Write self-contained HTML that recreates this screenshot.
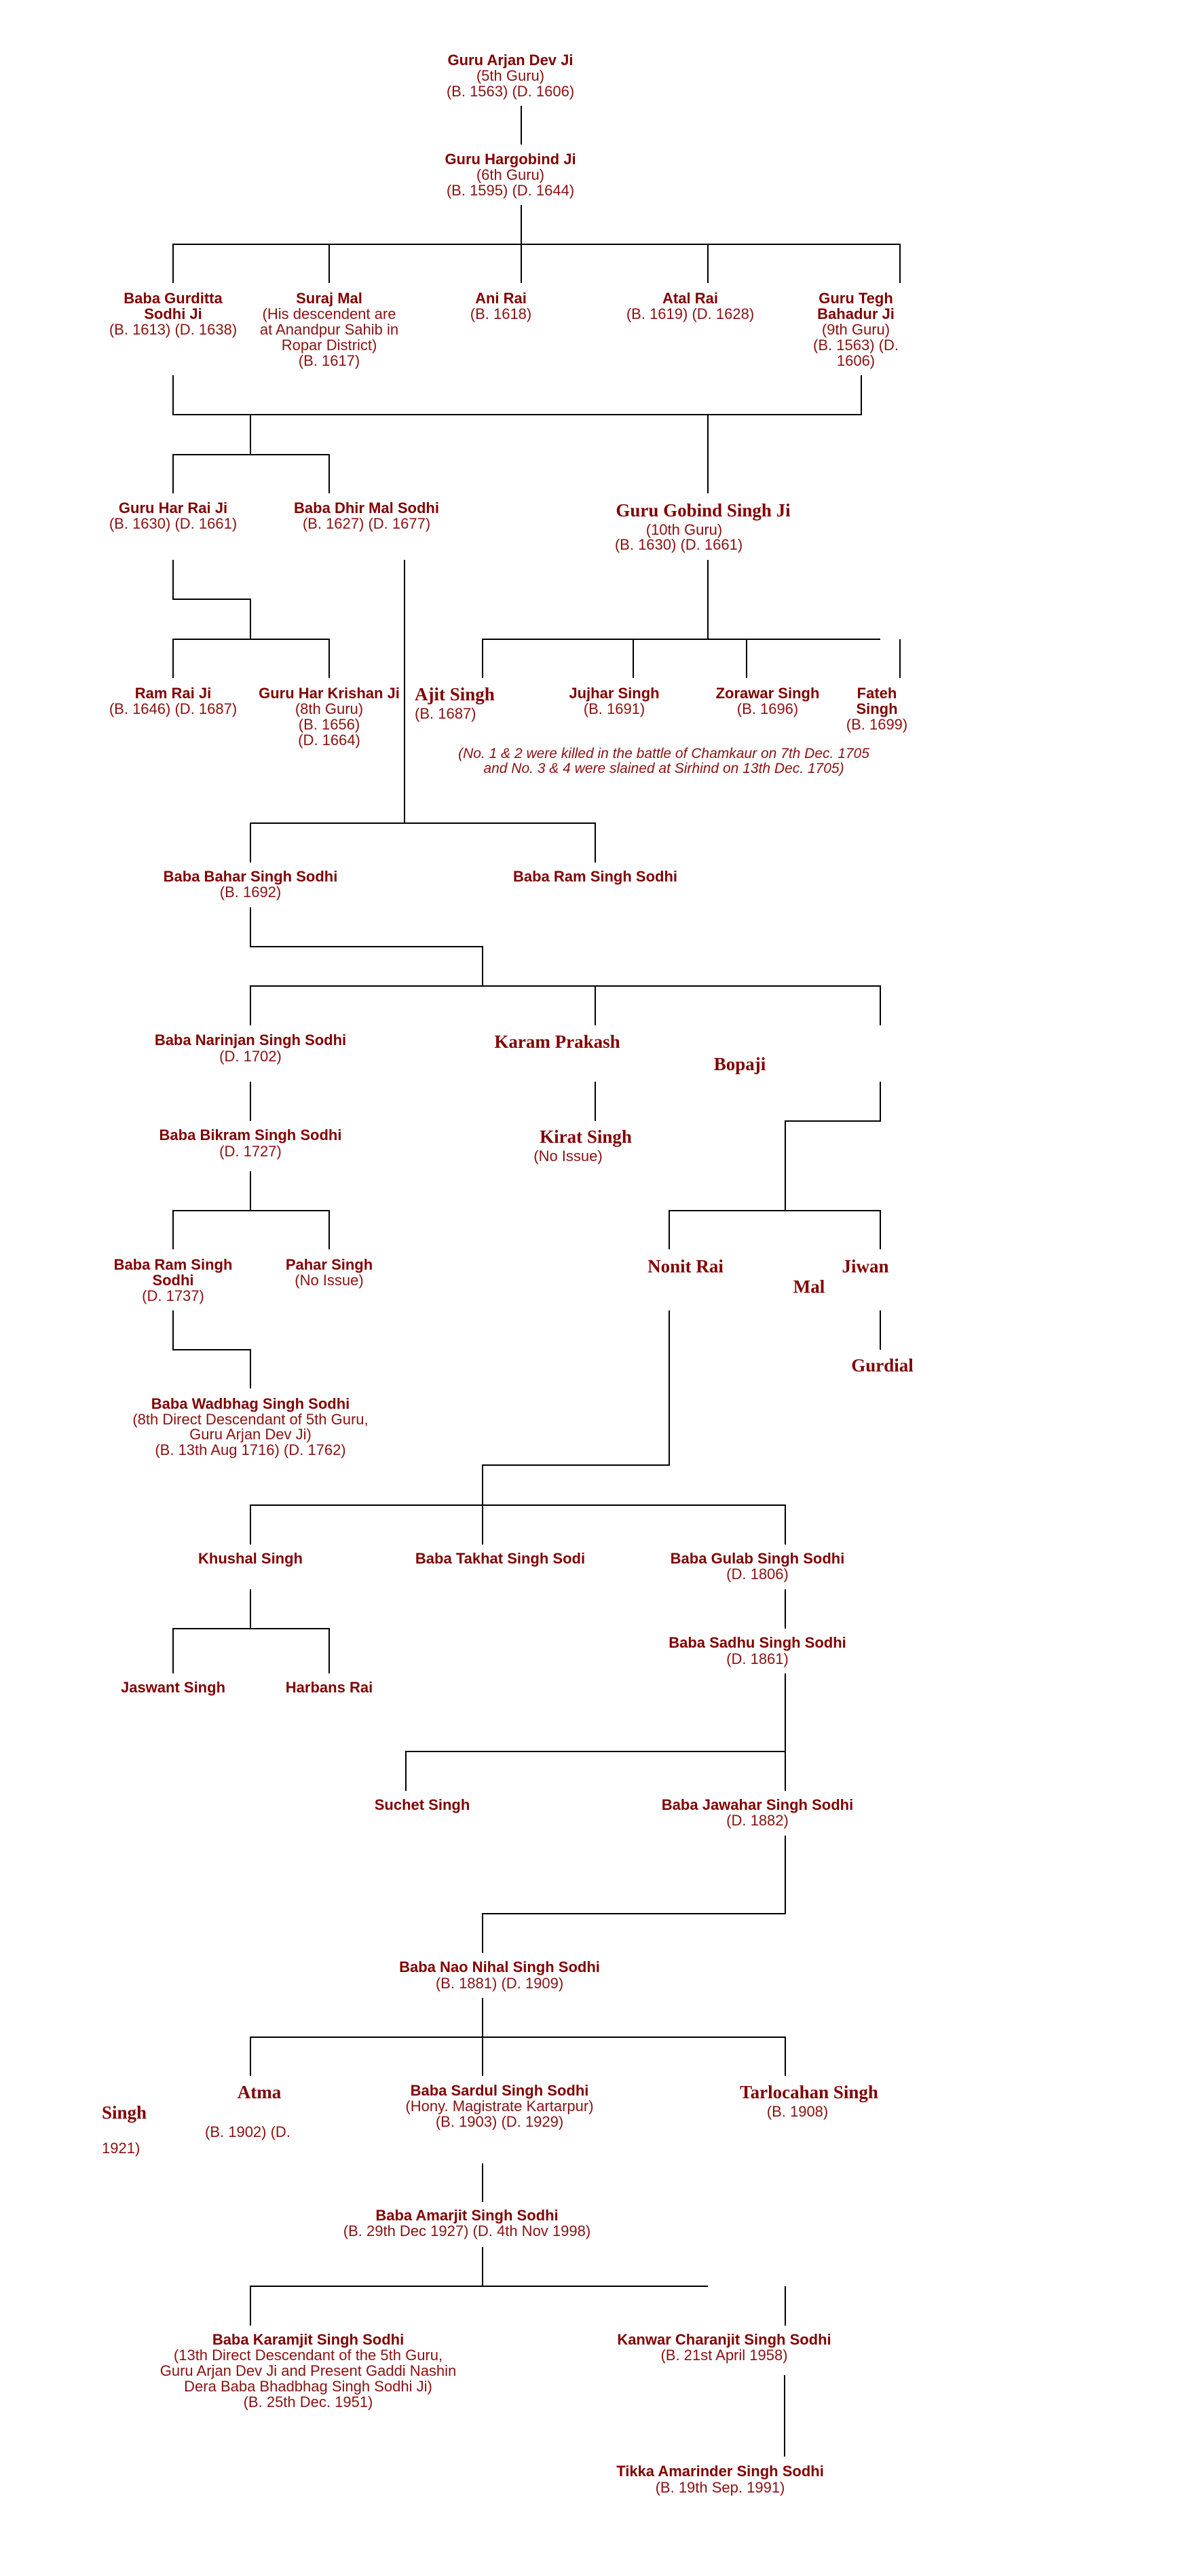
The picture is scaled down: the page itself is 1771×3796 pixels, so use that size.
<!DOCTYPE html>
<html><head><meta charset="utf-8"><style>
html,body{margin:0;padding:0;background:#fff;}
svg{display:block;}
.b{font-family:"Liberation Sans",sans-serif;font-weight:bold;font-size:22px;fill:#800000;text-anchor:middle;}
.r{font-family:"Liberation Sans",sans-serif;font-size:22px;fill:#8a1010;text-anchor:middle;}
.s{font-family:"Liberation Serif",serif;font-weight:bold;font-size:27px;fill:#800000;text-anchor:middle;}
.i{font-family:"Liberation Sans",sans-serif;font-style:italic;font-size:21px;fill:#8a1010;text-anchor:middle;}
.l{text-anchor:start;}
line{stroke:#000;stroke-width:2;}
</style></head><body>
<svg width="1771" height="3796" viewBox="0 0 1771 3796" xmlns="http://www.w3.org/2000/svg">
<g>
<line x1="768" y1="156" x2="768" y2="213"/>
<line x1="768" y1="302" x2="768" y2="360"/>
<line x1="254" y1="360" x2="1327" y2="360"/>
<line x1="255" y1="360" x2="255" y2="417"/>
<line x1="485" y1="360" x2="485" y2="417"/>
<line x1="768" y1="360" x2="768" y2="417"/>
<line x1="1043" y1="360" x2="1043" y2="417"/>
<line x1="1326" y1="360" x2="1326" y2="417"/>
<line x1="255" y1="553" x2="255" y2="611"/>
<line x1="1269" y1="553" x2="1269" y2="611"/>
<line x1="254" y1="611" x2="1270" y2="611"/>
<line x1="369" y1="611" x2="369" y2="670"/>
<line x1="1043" y1="611" x2="1043" y2="727"/>
<line x1="254" y1="670" x2="486" y2="670"/>
<line x1="255" y1="670" x2="255" y2="727"/>
<line x1="485" y1="670" x2="485" y2="727"/>
<line x1="255" y1="825" x2="255" y2="883"/>
<line x1="254" y1="883" x2="370" y2="883"/>
<line x1="369" y1="883" x2="369" y2="942"/>
<line x1="254" y1="942" x2="486" y2="942"/>
<line x1="255" y1="942" x2="255" y2="999"/>
<line x1="485" y1="942" x2="485" y2="999"/>
<line x1="596" y1="825" x2="596" y2="1213"/>
<line x1="1043" y1="825" x2="1043" y2="942"/>
<line x1="710" y1="942" x2="1297" y2="942"/>
<line x1="711" y1="942" x2="711" y2="999"/>
<line x1="933" y1="942" x2="933" y2="999"/>
<line x1="1100" y1="942" x2="1100" y2="999"/>
<line x1="1326" y1="942" x2="1326" y2="999"/>
<line x1="368" y1="1213" x2="878" y2="1213"/>
<line x1="369" y1="1213" x2="369" y2="1271"/>
<line x1="877" y1="1213" x2="877" y2="1271"/>
<line x1="369" y1="1337" x2="369" y2="1395"/>
<line x1="368" y1="1395" x2="712" y2="1395"/>
<line x1="711" y1="1395" x2="711" y2="1453"/>
<line x1="368" y1="1453" x2="1298" y2="1453"/>
<line x1="369" y1="1453" x2="369" y2="1511"/>
<line x1="877" y1="1453" x2="877" y2="1511"/>
<line x1="1297" y1="1453" x2="1297" y2="1511"/>
<line x1="369" y1="1594" x2="369" y2="1652"/>
<line x1="877" y1="1594" x2="877" y2="1652"/>
<line x1="1297" y1="1594" x2="1297" y2="1652"/>
<line x1="1156" y1="1652" x2="1298" y2="1652"/>
<line x1="1157" y1="1652" x2="1157" y2="1784"/>
<line x1="369" y1="1726" x2="369" y2="1784"/>
<line x1="254" y1="1784" x2="486" y2="1784"/>
<line x1="985" y1="1784" x2="1298" y2="1784"/>
<line x1="255" y1="1784" x2="255" y2="1841"/>
<line x1="485" y1="1784" x2="485" y2="1841"/>
<line x1="986" y1="1784" x2="986" y2="1841"/>
<line x1="1297" y1="1784" x2="1297" y2="1841"/>
<line x1="255" y1="1931" x2="255" y2="1989"/>
<line x1="254" y1="1989" x2="370" y2="1989"/>
<line x1="369" y1="1989" x2="369" y2="2046"/>
<line x1="1297" y1="1931" x2="1297" y2="1989"/>
<line x1="986" y1="1931" x2="986" y2="2159"/>
<line x1="710" y1="2159" x2="987" y2="2159"/>
<line x1="711" y1="2159" x2="711" y2="2276"/>
<line x1="368" y1="2218" x2="1158" y2="2218"/>
<line x1="369" y1="2218" x2="369" y2="2276"/>
<line x1="1157" y1="2218" x2="1157" y2="2276"/>
<line x1="369" y1="2342" x2="369" y2="2400"/>
<line x1="254" y1="2400" x2="486" y2="2400"/>
<line x1="255" y1="2400" x2="255" y2="2466"/>
<line x1="485" y1="2400" x2="485" y2="2466"/>
<line x1="1157" y1="2342" x2="1157" y2="2400"/>
<line x1="1157" y1="2466" x2="1157" y2="2639"/>
<line x1="597" y1="2581" x2="1158" y2="2581"/>
<line x1="598" y1="2581" x2="598" y2="2639"/>
<line x1="1157" y1="2705" x2="1157" y2="2820"/>
<line x1="710" y1="2820" x2="1158" y2="2820"/>
<line x1="711" y1="2820" x2="711" y2="2878"/>
<line x1="711" y1="2944" x2="711" y2="3002"/>
<line x1="368" y1="3002" x2="1158" y2="3002"/>
<line x1="369" y1="3002" x2="369" y2="3059"/>
<line x1="711" y1="3002" x2="711" y2="3059"/>
<line x1="1157" y1="3002" x2="1157" y2="3059"/>
<line x1="711" y1="3188" x2="711" y2="3245"/>
<line x1="711" y1="3311" x2="711" y2="3369"/>
<line x1="368" y1="3369" x2="1043" y2="3369"/>
<line x1="369" y1="3369" x2="369" y2="3427"/>
<line x1="1157" y1="3369" x2="1157" y2="3427"/>
<line x1="1156" y1="3500" x2="1156" y2="3620"/>
</g>
<g>
<text class="b" x="752" y="96">Guru Arjan Dev Ji</text>
<text class="r" x="752" y="119">(5th Guru)</text>
<text class="r" x="752" y="142">(B. 1563) (D. 1606)</text>
<text class="b" x="752" y="242">Guru Hargobind Ji</text>
<text class="r" x="752" y="265">(6th Guru)</text>
<text class="r" x="752" y="288">(B. 1595) (D. 1644)</text>

<text class="b" x="255" y="447">Baba Gurditta</text>
<text class="b" x="255" y="470">Sodhi Ji</text>
<text class="r" x="255" y="493">(B. 1613) (D. 1638)</text>
<text class="b" x="485" y="447">Suraj Mal</text>
<text class="r" x="485" y="470">(His descendent are</text>
<text class="r" x="485" y="493">at Anandpur Sahib in</text>
<text class="r" x="485" y="516">Ropar District)</text>
<text class="r" x="485" y="539">(B. 1617)</text>
<text class="b" x="738" y="447">Ani Rai</text>
<text class="r" x="738" y="470">(B. 1618)</text>
<text class="b" x="1017" y="447">Atal Rai</text>
<text class="r" x="1017" y="470">(B. 1619) (D. 1628)</text>
<text class="b" x="1261" y="447">Guru Tegh</text>
<text class="b" x="1261" y="470">Bahadur Ji</text>
<text class="r" x="1261" y="493">(9th Guru)</text>
<text class="r" x="1261" y="516">(B. 1563) (D.</text>
<text class="r" x="1261" y="539">1606)</text>

<text class="b" x="255" y="756">Guru Har Rai Ji</text>
<text class="r" x="255" y="779">(B. 1630) (D. 1661)</text>
<text class="b" x="540" y="756">Baba Dhir Mal Sodhi</text>
<text class="r" x="540" y="779">(B. 1627) (D. 1677)</text>
<text class="s" x="1036" y="761">Guru Gobind Singh Ji</text>
<text class="r" x="1008" y="788">(10th Guru)</text>
<text class="r" x="1000" y="810">(B. 1630) (D. 1661)</text>

<text class="b" x="255" y="1029">Ram Rai Ji</text>
<text class="r" x="255" y="1052">(B. 1646) (D. 1687)</text>
<text class="b" x="485" y="1029">Guru Har Krishan Ji</text>
<text class="r" x="485" y="1052">(8th Guru)</text>
<text class="r" x="485" y="1075">(B. 1656)</text>
<text class="r" x="485" y="1098">(D. 1664)</text>
<text class="s l" x="611" y="1032">Ajit Singh</text>
<text class="r l" x="611" y="1059">(B. 1687)</text>
<text class="b" x="905" y="1029">Jujhar Singh</text>
<text class="r" x="905" y="1052">(B. 1691)</text>
<text class="b" x="1131" y="1029">Zorawar Singh</text>
<text class="r" x="1131" y="1052">(B. 1696)</text>
<text class="b" x="1292" y="1029">Fateh</text>
<text class="b" x="1292" y="1052">Singh</text>
<text class="r" x="1292" y="1075">(B. 1699)</text>
<text class="i" x="978" y="1117">(No. 1 &amp; 2 were killed in the battle of Chamkaur on 7th Dec. 1705</text>
<text class="i" x="978" y="1139">and No. 3 &amp; 4 were slained at Sirhind on 13th Dec. 1705)</text>

<text class="b" x="369" y="1299">Baba Bahar Singh Sodhi</text>
<text class="r" x="369" y="1322">(B. 1692)</text>
<text class="b" x="877" y="1299">Baba Ram Singh Sodhi</text>

<text class="b" x="369" y="1540">Baba Narinjan Singh Sodhi</text>
<text class="r" x="369" y="1564">(D. 1702)</text>
<text class="s" x="821" y="1544">Karam Prakash</text>
<text class="s" x="1090" y="1577">Bopaji</text>
<text class="b" x="369" y="1680">Baba Bikram Singh Sodhi</text>
<text class="r" x="369" y="1704">(D. 1727)</text>
<text class="s" x="863" y="1684">Kirat Singh</text>
<text class="r" x="837" y="1711">(No Issue)</text>

<text class="b" x="255" y="1871">Baba Ram Singh</text>
<text class="b" x="255" y="1894">Sodhi</text>
<text class="r" x="255" y="1917">(D. 1737)</text>
<text class="b" x="485" y="1871">Pahar Singh</text>
<text class="r" x="485" y="1894">(No Issue)</text>
<text class="s" x="1010" y="1875">Nonit Rai</text>
<text class="s" x="1275" y="1875">Jiwan</text>
<text class="s" x="1192" y="1905">Mal</text>
<text class="s" x="1300" y="2021">Gurdial</text>

<text class="b" x="369" y="2076">Baba Wadbhag Singh Sodhi</text>
<text class="r" x="369" y="2099">(8th Direct Descendant of 5th Guru,</text>
<text class="r" x="369" y="2121">Guru Arjan Dev Ji)</text>
<text class="r" x="369" y="2144">(B. 13th Aug 1716) (D. 1762)</text>

<text class="b" x="369" y="2304">Khushal Singh</text>
<text class="b" x="737" y="2304">Baba Takhat Singh Sodi</text>
<text class="b" x="1116" y="2304">Baba Gulab Singh Sodhi</text>
<text class="r" x="1116" y="2327">(D. 1806)</text>
<text class="b" x="1116" y="2428">Baba Sadhu Singh Sodhi</text>
<text class="r" x="1116" y="2452">(D. 1861)</text>
<text class="b" x="255" y="2494">Jaswant Singh</text>
<text class="b" x="485" y="2494">Harbans Rai</text>

<text class="b" x="622" y="2667">Suchet Singh</text>
<text class="b" x="1116" y="2667">Baba Jawahar Singh Sodhi</text>
<text class="r" x="1116" y="2690">(D. 1882)</text>
<text class="b" x="736" y="2906">Baba Nao Nihal Singh Sodhi</text>
<text class="r" x="736" y="2930">(B. 1881) (D. 1909)</text>

<text class="s" x="382" y="3092">Atma</text>
<text class="s l" x="150" y="3122">Singh</text>
<text class="r l" x="302" y="3149">(B. 1902) (D.</text>
<text class="r l" x="150" y="3173">1921)</text>
<text class="b" x="736" y="3088">Baba Sardul Singh Sodhi</text>
<text class="r" x="736" y="3111">(Hony. Magistrate Kartarpur)</text>
<text class="r" x="736" y="3134">(B. 1903) (D. 1929)</text>
<text class="s" x="1192" y="3092">Tarlocahan Singh</text>
<text class="r" x="1175" y="3119">(B. 1908)</text>

<text class="b" x="688" y="3272">Baba Amarjit Singh Sodhi</text>
<text class="r" x="688" y="3295">(B. 29th Dec 1927) (D. 4th Nov 1998)</text>

<text class="b" x="454" y="3455">Baba Karamjit Singh Sodhi</text>
<text class="r" x="454" y="3478">(13th Direct Descendant of the 5th Guru,</text>
<text class="r" x="454" y="3501">Guru Arjan Dev Ji and Present Gaddi Nashin</text>
<text class="r" x="454" y="3524">Dera Baba Bhadbhag Singh Sodhi Ji)</text>
<text class="r" x="454" y="3547">(B. 25th Dec. 1951)</text>
<text class="b" x="1067" y="3455">Kanwar Charanjit Singh Sodhi</text>
<text class="r" x="1067" y="3478">(B. 21st April 1958)</text>
<text class="b" x="1061" y="3649">Tikka Amarinder Singh Sodhi</text>
<text class="r" x="1061" y="3673">(B. 19th Sep. 1991)</text>
</g>
</svg>
</body></html>
